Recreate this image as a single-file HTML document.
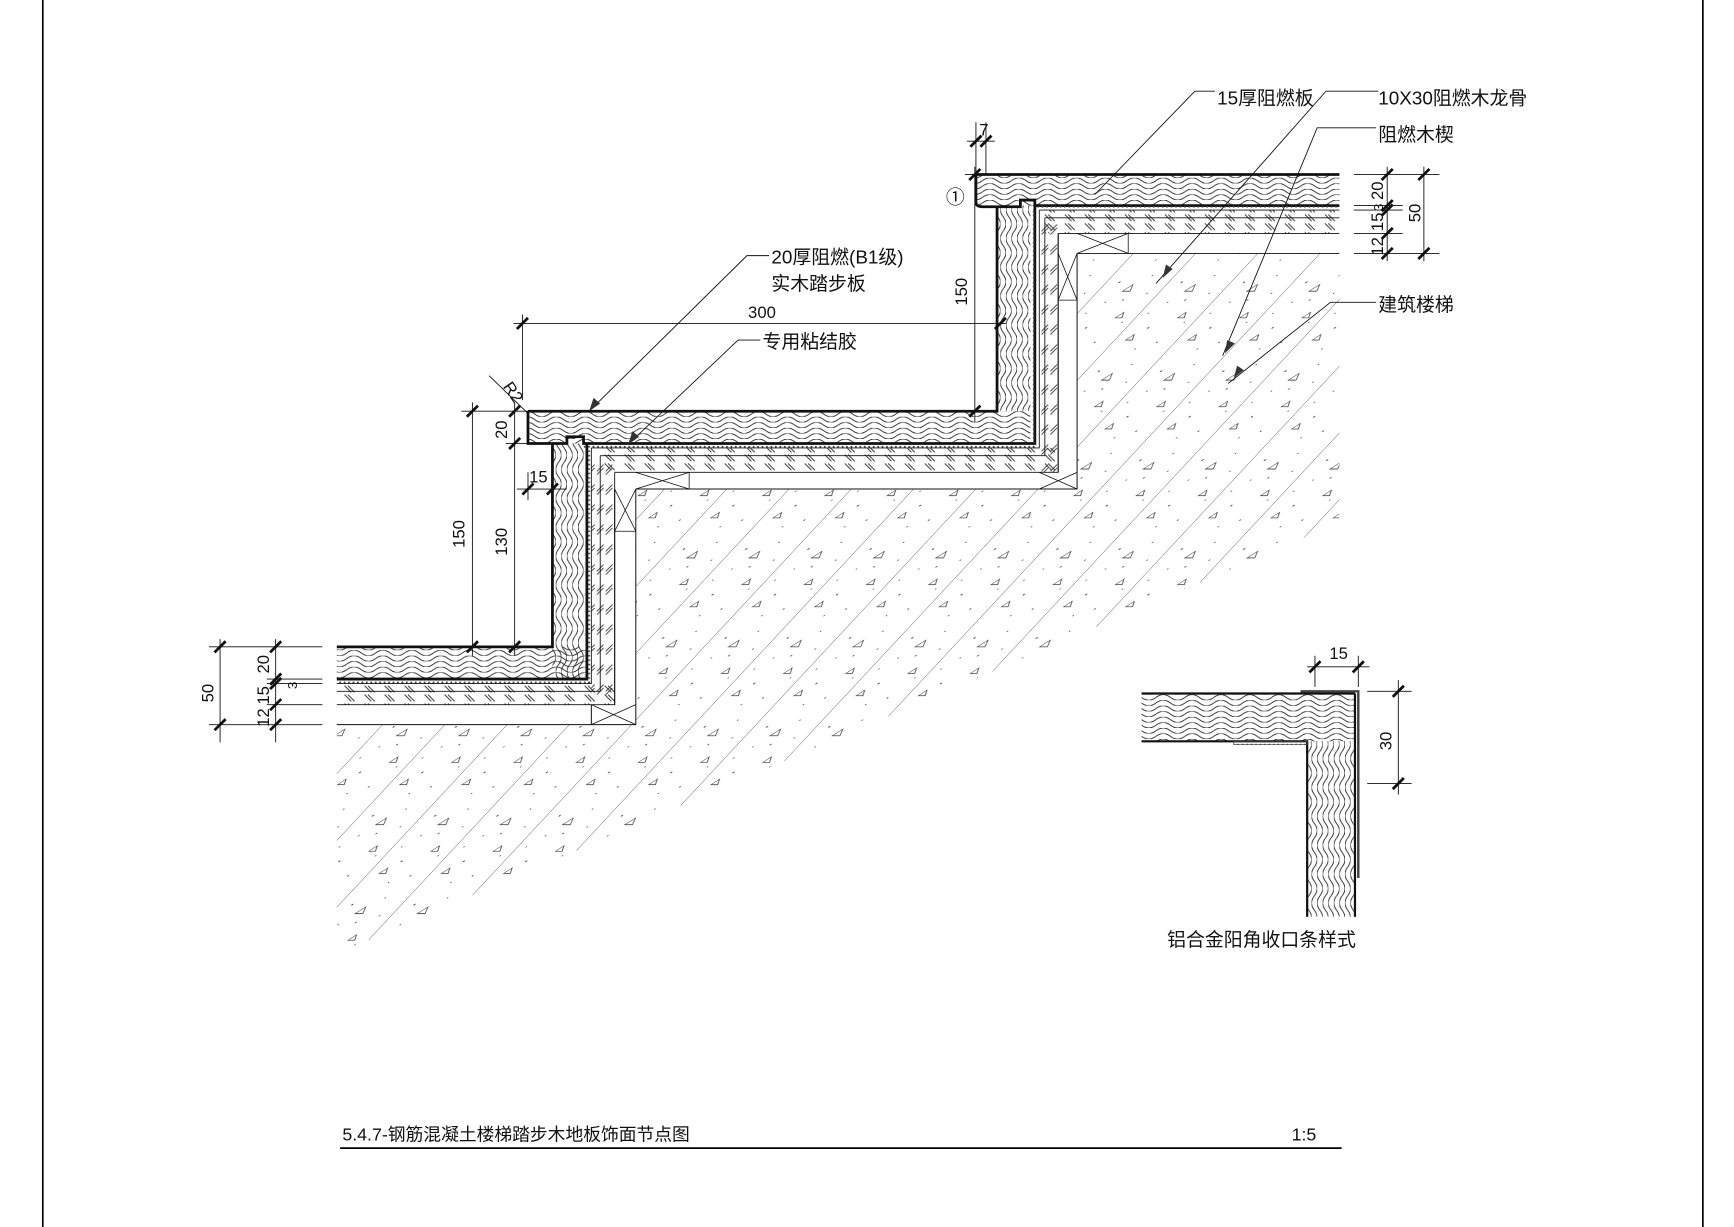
<!DOCTYPE html>
<html><head><meta charset="utf-8"><style>
html,body{margin:0;padding:0;background:#fff;}
svg{display:block;}
text{font-family:"Liberation Sans","Noto Sans CJK SC",sans-serif;fill:#111;}
</style></head><body>
<svg width="1734" height="1227" viewBox="0 0 1560 1104" preserveAspectRatio="none" xmlns="http://www.w3.org/2000/svg">
<defs>
<pattern id="wave" width="26" height="5" patternUnits="userSpaceOnUse">
<path d="M0 2.5 Q6.5 -2.5 13 2.5 T26 2.5" fill="none" stroke="#222" stroke-width="0.8"/>
</pattern>
<pattern id="waveV" width="5" height="26" patternUnits="userSpaceOnUse">
<path d="M2.5 0 Q-2.5 6.5 2.5 13 T2.5 26" fill="none" stroke="#222" stroke-width="0.8"/>
</pattern>
<pattern id="slash" width="18" height="8" patternUnits="userSpaceOnUse">
<path d="M4 1 L10 7 M7 1 L13 7" stroke="#333" stroke-width="0.8"/>
</pattern>
<pattern id="slashV" width="8" height="18" patternUnits="userSpaceOnUse">
<path d="M1 10 L7 4 M1 13 L7 7" stroke="#333" stroke-width="0.8"/>
</pattern>
<pattern id="dots" width="4" height="4" patternUnits="userSpaceOnUse">
<circle cx="2" cy="2" r="0.9" fill="#444"/>
</pattern>
<pattern id="conc" width="56" height="80" patternUnits="userSpaceOnUse" patternTransform="skewX(-43)">
<line x1="0" y1="0" x2="0" y2="80" stroke="#333" stroke-width="0.8"/>
<circle cx="12" cy="14" r="0.8" fill="#555"/><circle cx="30" cy="30" r="0.7" fill="#555"/>
<circle cx="20" cy="55" r="0.8" fill="#555"/><circle cx="40" cy="68" r="0.7" fill="#555"/>
<circle cx="8" cy="42" r="0.6" fill="#555"/><circle cx="36" cy="8" r="0.6" fill="#555"/>
<circle cx="46" cy="24" r="0.6" fill="#555"/><circle cx="26" cy="74" r="0.6" fill="#555"/>
<circle cx="16" cy="32" r="0.6" fill="#555"/><circle cx="48" cy="50" r="0.6" fill="#555"/>
<path d="M22 22 l4 -6 l3 6 z" fill="none" stroke="#444" stroke-width="0.7"/>
<path d="M10 66 l3 -5 l3 5 z" fill="none" stroke="#444" stroke-width="0.7"/>
<path d="M38 46 l3 -5 l3 5 z" fill="none" stroke="#444" stroke-width="0.7"/>
</pattern>
</defs>

<line x1="38.5" y1="0" x2="38.5" y2="1104" stroke="#000" stroke-width="1.5"/>
<line x1="1532" y1="0" x2="1532" y2="1104" stroke="#000" stroke-width="1.5"/>

<polygon points="303,652 572,652 572,440 969,440 969,228 1205,228 1205,470 303,858" fill="url(#conc)"/>

<g stroke="#111" fill="none">
<rect x="303" y="582" width="225" height="29" fill="url(#wave)" stroke="none"/>
<rect x="497" y="399" width="28" height="212" fill="url(#waveV)" stroke="none"/>
<path d="M303 582 H497 V399" stroke-width="2.5"/>
<path d="M303 611 H528 V399" stroke-width="2.5"/>
<rect x="303" y="611" width="229" height="4" fill="url(#dots)" stroke="none"/>
<rect x="528" y="403" width="4" height="212" fill="url(#dots)" stroke="none"/>
<path d="M303 615 H532 V403" stroke-width="0.8"/>
<rect x="303" y="615" width="250" height="19" fill="url(#slash)" stroke="none"/>
<rect x="532" y="410" width="21" height="224" fill="url(#slashV)" stroke="none"/>
<path d="M303 622 H540 V410 M303 634 H553 V425" stroke-width="0.8"/>
<path d="M303 652 H572 V440 M532 634 V652 M553 440 V634" stroke-width="0.9"/>
<path d="M532 634 L572 652 M532 652 L572 634 M553 440 L572 478 M572 440 L553 478 M553 478 H572" stroke-width="0.7"/>

<rect x="475" y="370" width="452" height="29" fill="url(#wave)" stroke="none"/>
<rect x="897" y="185" width="30" height="185" fill="url(#waveV)" stroke="none"/>
<path d="M475 370 H897 V185" stroke-width="2.5"/>
<path d="M475 370 V399 H510 V393 H525 V399 H931 V185" stroke-width="2.5"/>
<rect x="525" y="399" width="406" height="4" fill="url(#dots)" stroke="none"/>
<rect x="927" y="189" width="4" height="214" fill="url(#dots)" stroke="none"/>
<path d="M532 403 H935 V189" stroke-width="0.8"/>
<rect x="540" y="403" width="412" height="22" fill="url(#slash)" stroke="none"/>
<rect x="935" y="196" width="17" height="229" fill="url(#slashV)" stroke="none"/>
<path d="M540 410 H940 V196 M553 425 H952 V210" stroke-width="0.8"/>
<path d="M572 440 H969 V228 M952 210 V425 M969 228 V440" stroke-width="0.9"/>
<path d="M572 425 L620 440 M572 440 L620 425 M620 425 V440 M935 425 L969 440 M935 440 L969 425 M952 228 L969 270 M969 228 L952 270 M952 270 H969" stroke-width="0.7"/>

<rect x="878" y="157" width="327" height="28" fill="url(#wave)" stroke="none"/>
<path d="M878 157 H1205" stroke-width="2.5"/>
<path d="M878 157 V182 Q878 186 884 186 H918 V180 H931 V185 H1205" stroke-width="2.5"/>
<rect x="931" y="185" width="274" height="4" fill="url(#dots)" stroke="none"/>
<path d="M935 189 H1205" stroke-width="0.8"/>
<rect x="935" y="189" width="270" height="21" fill="url(#slash)" stroke="none"/>
<path d="M940 196 H1205 M952 210 H1205 M969 228 H1205" stroke-width="0.8"/>
<path d="M969 210 L1015 228 M969 228 L1015 210 M1015 210 V228" stroke-width="0.7"/>

<g stroke-width="0.8">
<path d="M188 582 H290 M240 611 H290 M240 615 H290 M240 634 H290 M188 652 H290"/>
<path d="M198 575 V668 M248 575 V668"/>
<path d="M415 370 H475 M455 399 H497 M418 582 H470"/>
<path d="M425 362 V590 M463 362 V590"/>
<path d="M465 440 H510 M475 425 V450 M497 425 V450"/>
<path d="M440 338 L475 372"/>
<path d="M462 291 H905 M470 283 V360"/>
<path d="M877 150 V380 M868 157 H890"/>
<path d="M870 127 H895 M878 110 V157 M887 110 V157"/>
<path d="M1218 157 H1295 M1218 185 H1262 M1218 189 H1262 M1218 210 H1262 M1218 228 H1295"/>
<path d="M1248 150 V235 M1281 150 V235"/>
<path d="M1176 600 H1232 M1183 590 V618 M1222 590 V618"/>
<path d="M1230 622 H1270 M1230 705 H1270 M1258 612 V715"/>
</g>
<g stroke-width="2.5">
<path d="M193 587 L203 577 M193 657 L203 647 M243 587 L253 577 M243 616 L253 606 M243 620 L253 610 M243 639 L253 629 M243 657 L253 647"/>
<path d="M420 375 L430 365 M420 587 L430 577 M458 375 L468 365 M458 404 L468 394 M458 587 L468 577"/>
<path d="M470 445 L480 435 M492 445 L502 435"/>
<path d="M465 296 L475 286 M895 296 L905 286"/>
<path d="M872 162 L882 152 M872 375 L882 365"/>
<path d="M873 132 L883 122 M882 132 L892 122"/>
<path d="M1243 162 L1253 152 M1243 190 L1253 180 M1243 194 L1253 184 M1243 215 L1253 205 M1243 233 L1253 223 M1276 162 L1286 152 M1276 233 L1286 223"/>
<path d="M1178 605 L1188 595 M1217 605 L1227 595 M1253 627 L1263 617 M1253 710 L1263 700"/>
</g>

<g stroke-width="0.8">
<path d="M692 230 H672 L530 370"/>
<path d="M684 306 H664 L565 400"/>
<path d="M1093 82 H1075 L985 175"/>
<path d="M1240 82 H1193 L1040 255"/>
<path d="M1238 115 H1185 L1100 320"/>
<path d="M1238 272 H1197 L1105 345"/>
</g>
<g fill="#333" stroke="none">
<path d="M530 370 l4 -12 l6 5 z"/>
<path d="M565 400 l4 -12 l6 5 z"/>
<path d="M1046 250 l3 -12 l6 4 z"/>
<path d="M1102 318 l2 -12 l7 3 z"/>
<path d="M1110 340 l3 -11 l6 4 z"/>
</g>

<rect x="1027" y="624" width="192" height="43" fill="url(#wave)" stroke="none"/>
<rect x="1176" y="667" width="43" height="158" fill="url(#waveV)" stroke="none"/>
<path d="M1027 624 H1219 M1027 667 H1176 V825 M1219 624 V825" stroke-width="2"/>
<path d="M1170 622 H1222 V790" stroke-width="2.2" stroke="#444"/>
<rect x="1110" y="667" width="66" height="3" fill="url(#dots)" stroke="#444" stroke-width="0.6"/>
</g>

<g font-size="17">
<text x="1095" y="94">15厚阻燃板</text>
<text x="1240" y="94">10X30阻燃木龙骨</text>
<text x="1240" y="127">阻燃木楔</text>
<text x="1240" y="280">建筑楼梯</text>
<text x="694" y="237">20厚阻燃(B1级)</text>
<text x="694" y="261">实木踏步板</text>
<text x="686" y="313">专用粘结胶</text>
<text x="1050" y="851">铝合金阳角收口条样式</text>
<text x="308" y="1026" font-size="16">5.4.7-钢筋混凝土楼梯踏步木地板饰面节点图</text>
<text x="1162" y="1026" font-size="16">1:5</text>
</g>
<line x1="306" y1="1033" x2="1207" y2="1033" stroke="#000" stroke-width="1.6"/>
<g font-size="15">
<text x="673" y="286">300</text>
<text x="476" y="434">15</text>
<text x="881" y="122">7</text>
<text x="851" y="183" font-size="17">①</text>
<text x="1196" y="593">15</text>
<text transform="translate(192,632) rotate(-90)">50</text>
<text transform="translate(242,606) rotate(-90)">20</text>
<text transform="translate(267,620) rotate(-90)" font-size="12">3</text>
<text transform="translate(242,634) rotate(-90)">15</text>
<text transform="translate(242,654) rotate(-90)">12</text>
<text transform="translate(418,493) rotate(-90)">150</text>
<text transform="translate(456,500) rotate(-90)">130</text>
<text transform="translate(456,395) rotate(-90)">20</text>
<text transform="translate(870,275) rotate(-90)">150</text>
<text transform="translate(1244,180) rotate(-90)">20</text>
<text transform="translate(1244,190) rotate(-90)" font-size="12">3</text>
<text transform="translate(1244,208) rotate(-90)">15</text>
<text transform="translate(1244,230) rotate(-90)">12</text>
<text transform="translate(1278,200) rotate(-90)">50</text>
<text transform="translate(1252,675) rotate(-90)">30</text>
<text transform="translate(452,348) rotate(55)">R2</text>
</g>
</svg>
</body></html>
